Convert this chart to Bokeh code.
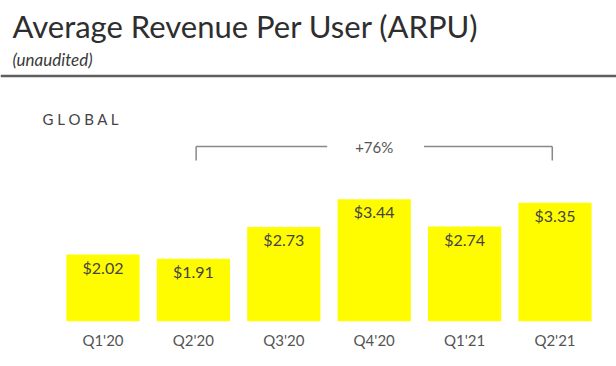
from bokeh.plotting import figure
from bokeh.models import Range1d, FixedTicker, ColumnDataSource
from bokeh.core.properties import value
from bokeh.embed import file_html
from bokeh.resources import INLINE

quarters = ["Q1'20", "Q2'20", "Q3'20", "Q4'20", "Q1'21", "Q2'21"]
arpu = [2.02, 1.91, 2.73, 3.44, 2.74, 3.35]
arpu_labels = ["$2.02", "$1.91", "$2.73", "$3.44", "$2.74", "$3.35"]
growth_label = "+76%"
title_text = "Average Revenue Per User (ARPU)"
subtitle_text = "(unaudited)"
region_text = "G L O B A L"

W, H = 616, 366
BB = 45                      # bottom border (axis)
FH = H - BB                  # frame height
PX_PER_CAT = 90.4
FIRST_CENTER = 102.5
X0 = -FIRST_CENTER / PX_PER_CAT
X1 = (W - FIRST_CENTER) / PX_PER_CAT
Y0, Y1 = 0.3, 0.3 + FH / 38.9
FONT = "Lato"

def dx(cx):  # canvas px -> data x
    return X0 + cx / W * (X1 - X0)

def dy(cy):  # canvas px -> data y
    return Y1 - cy / FH * (Y1 - Y0)

idx = list(range(len(quarters)))
src = ColumnDataSource(dict(x=idx, top=arpu, lab=arpu_labels))

p = figure(width=W, height=H, output_backend="svg", toolbar_location=None,
           x_range=Range1d(X0, X1), y_range=Range1d(Y0, Y1),
           y_axis_location=None, min_border_left=0, min_border_right=0,
           min_border_top=0, min_border_bottom=BB)
p.outline_line_color = None
p.grid.visible = False
p.background_fill_color = "white"
p.border_fill_color = "white"

p.vbar(x="x", top="top", bottom=0, width=0.81, source=src,
       fill_color="#FFFC00", line_color=None)
p.text(x="x", y="top", text="lab", source=src, text_align="center",
       text_baseline="top", y_offset=3, text_font=value(FONT),
       text_font_size="16px", text_color="#444444")

ax = p.xaxis[0]
ax.ticker = FixedTicker(ticks=idx)
ax.major_label_overrides = {i: q for i, q in enumerate(quarters)}
ax.major_tick_out = 0
ax.major_tick_in = 0
ax.minor_tick_out = 0
ax.minor_tick_in = 0
ax.axis_line_color = None
ax.major_label_standoff = 9
ax.major_label_text_font = FONT
ax.major_label_text_font_size = "15px"
ax.major_label_text_color = "#555555"

# header
p.text(x=[dx(12)], y=[dy(25)], text=[title_text], text_font=value(FONT),
       text_font_size="31px", text_color="#2e2e2e", text_baseline="middle")
p.text(x=[dx(12)], y=[dy(59)], text=[subtitle_text], text_font=value(FONT),
       text_font_size="17px", text_font_style="italic", text_color="#3a3a3a",
       text_baseline="middle")
p.segment(x0=[X0], x1=[X1], y0=[dy(75.5)], y1=[dy(75.5)], line_color="#5e5e5e",
          line_width=2.5)
p.text(x=[dx(42)], y=[dy(118)], text=[region_text], text_font=value(FONT),
       text_font_size="15px", text_color="#444444", text_baseline="middle")

# bracket
bl, br = idx[1] + 0.03, idx[5] - 0.03
mid = (bl + br) / 2
yb, yt = dy(146), dy(160)
p.segment(x0=[bl, mid + 0.55], x1=[mid - 0.52, br], y0=[yb, yb], y1=[yb, yb],
          line_color="#888888", line_width=1.5)
p.segment(x0=[bl, br], x1=[bl, br], y0=[yb, yb], y1=[yt, yt],
          line_color="#888888", line_width=1.5)
p.text(x=[mid], y=[yb], text=[growth_label], text_align="center",
       text_baseline="middle", text_font=value(FONT), text_font_size="15px",
       text_color="#555555")

open("out.html", "w").write(file_html(p, INLINE))
